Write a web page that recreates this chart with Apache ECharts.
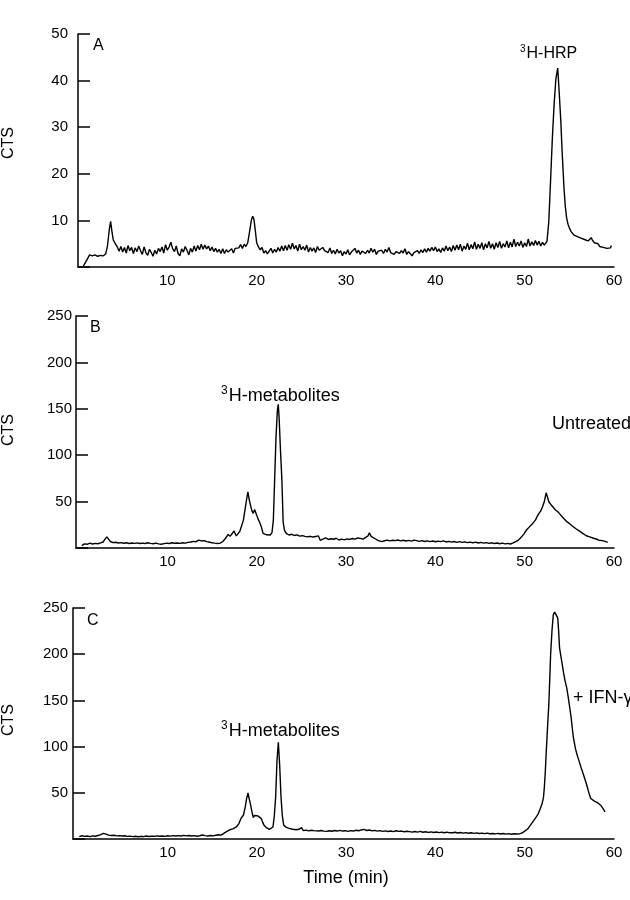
<!DOCTYPE html>
<html><head><meta charset="utf-8">
<script src="https://cdn.jsdelivr.net/npm/echarts@6/dist/echarts.min.js"></script>
<style>html,body{margin:0;padding:0;background:#fff}#c{width:630px;height:900px}</style>
</head><body><div id="c"></div>
<script>
// Panel A: [time (min), CTS]
const traceA = [[0.6,0.2],[0.9,1.2],[1.3,2.6],[1.6,2.4],[1.9,2.6],[2.2,2.3],[2.5,2.5],[2.8,2.4],[3.1,2.8],[3.3,4.5],[3.5,8.0],[3.65,9.8],[3.8,7.6],[3.95,5.8],[4.2,4.9],[4.4,4.3],[4.6,3.4],[4.8,4.4],[5.0,3.2],[5.2,4.2],[5.4,3.0],[5.6,4.6],[5.8,3.5],[6.0,4.2],[6.2,2.9],[6.4,4.1],[6.6,3.3],[6.8,4.5],[7.0,3.5],[7.2,2.7],[7.4,4.3],[7.6,3.1],[7.8,2.5],[8.0,3.8],[8.2,3.1],[8.4,2.3],[8.6,3.6],[8.8,2.8],[9.0,4.0],[9.2,3.3],[9.4,4.3],[9.6,3.0],[9.8,4.8],[10.0,3.6],[10.2,4.3],[10.4,5.3],[10.6,3.9],[10.8,3.3],[11.0,4.5],[11.2,2.9],[11.4,2.4],[11.6,3.9],[11.8,3.2],[12.0,4.4],[12.2,3.6],[12.4,2.6],[12.6,4.0],[12.8,3.2],[13.0,4.5],[13.2,3.4],[13.4,4.6],[13.6,3.7],[13.8,4.9],[14.0,3.8],[14.2,4.7],[14.4,3.9],[14.6,4.5],[14.8,3.5],[15.0,4.3],[15.2,3.3],[15.4,4.0],[15.6,3.2],[15.8,3.8],[16.0,2.9],[16.2,3.9],[16.4,2.9],[16.6,3.7],[16.8,3.2],[17.0,3.5],[17.2,3.9],[17.4,3.0],[17.6,4.0],[17.8,3.6],[18.0,4.1],[18.2,4.8],[18.4,4.0],[18.6,4.9],[18.8,4.4],[19.0,5.2],[19.2,7.5],[19.4,10.0],[19.55,10.9],[19.7,10.2],[19.85,7.8],[20.0,5.2],[20.2,4.3],[20.4,3.7],[20.6,4.2],[20.8,3.0],[21.0,3.5],[21.2,2.8],[21.4,3.4],[21.6,4.0],[21.8,3.0],[22.0,3.8],[22.2,3.2],[22.4,4.2],[22.6,3.4],[22.8,4.5],[23.0,3.5],[23.2,4.6],[23.4,3.6],[23.6,4.8],[23.8,3.8],[24.0,5.1],[24.2,3.9],[24.4,4.6],[24.6,3.4],[24.8,4.9],[25.0,3.7],[25.2,4.4],[25.4,3.6],[25.6,4.7],[25.8,3.2],[26.0,4.2],[26.2,3.4],[26.4,4.1],[26.6,3.1],[26.8,4.4],[27.0,3.6],[27.2,3.2],[27.4,4.2],[27.6,3.5],[27.8,3.9],[28.0,3.1],[28.2,4.1],[28.4,2.9],[28.6,3.6],[28.8,2.8],[29.0,3.8],[29.2,3.0],[29.4,3.5],[29.6,2.4],[29.8,3.3],[30.0,2.8],[30.2,3.7],[30.4,2.6],[30.6,3.2],[30.8,2.9],[31.0,4.0],[31.2,3.0],[31.4,3.6],[31.6,2.7],[31.8,3.4],[32.0,3.8],[32.2,2.9],[32.4,3.6],[32.6,3.0],[32.8,4.0],[33.0,3.2],[33.2,3.8],[33.4,2.7],[33.6,3.4],[33.8,3.0],[34.0,3.6],[34.2,2.9],[34.4,3.8],[34.6,3.2],[34.8,4.2],[35.0,3.1],[35.2,3.5],[35.4,2.7],[35.6,3.3],[35.8,3.7],[36.0,2.9],[36.2,3.5],[36.4,3.0],[36.6,3.9],[36.8,2.7],[37.0,3.3],[37.2,2.9],[37.4,2.4],[37.6,3.1],[37.8,2.7],[38.0,3.5],[38.2,2.9],[38.4,3.7],[38.6,3.1],[38.8,3.9],[39.0,3.2],[39.2,4.0],[39.4,3.4],[39.6,4.2],[39.8,3.5],[40.0,4.3],[40.2,3.3],[40.4,3.9],[40.6,3.1],[40.8,4.1],[41.0,3.4],[41.2,4.5],[41.4,3.5],[41.6,4.3],[41.8,3.3],[42.0,4.6],[42.2,3.6],[42.4,4.7],[42.6,3.7],[42.8,4.9],[43.0,3.4],[43.2,4.5],[43.4,3.8],[43.6,5.1],[43.8,3.7],[44.0,4.8],[44.2,3.9],[44.4,5.4],[44.6,3.8],[44.8,4.9],[45.0,4.0],[45.2,5.2],[45.4,3.7],[45.6,5.0],[45.8,4.1],[46.0,5.5],[46.2,4.0],[46.4,5.0],[46.6,3.8],[46.8,5.2],[47.0,4.2],[47.2,5.5],[47.4,4.0],[47.6,5.0],[47.8,4.3],[48.0,5.6],[48.2,4.1],[48.4,5.3],[48.6,4.3],[48.8,6.0],[49.0,4.4],[49.2,5.3],[49.4,4.5],[49.6,5.6],[49.8,4.2],[50.0,5.2],[50.2,4.4],[50.4,6.0],[50.6,4.5],[50.8,5.4],[51.0,4.6],[51.2,5.7],[51.4,4.7],[51.6,5.5],[51.8,4.5],[52.0,5.3],[52.2,4.7],[52.5,5.5],[52.7,9.7],[52.9,18.5],[53.1,27.7],[53.3,35.0],[53.5,40.5],[53.7,42.7],[53.85,38.0],[54.05,31.2],[54.2,24.5],[54.4,17.0],[54.55,13.0],[54.7,10.5],[54.85,9.2],[55.0,8.4],[55.2,7.6],[55.5,6.9],[55.7,7.3],[55.9,6.5],[56.1,6.8],[56.3,6.2],[56.5,6.5],[56.7,5.9],[56.9,6.1],[57.1,5.6],[57.3,6.0],[57.45,6.3],[57.6,5.7],[57.8,5.2],[58.0,4.8],[58.2,5.0],[58.4,4.4],[58.6,4.6],[58.8,4.2],[59.0,4.5],[59.2,4.0],[59.4,4.3],[59.6,4.1],[59.7,4.6]];

// Panel B (Untreated)
const traceB = [[0.4,2.5],[0.7,4.5],[1.0,4.0],[1.3,5.2],[1.6,4.3],[1.9,5.0],[2.2,4.6],[2.5,5.5],[2.8,6.5],[3.0,9.5],[3.2,12.0],[3.4,10.5],[3.6,7.0],[3.9,5.8],[4.2,6.2],[4.5,5.4],[4.8,5.8],[5.1,5.1],[5.4,5.6],[5.7,4.9],[6.0,5.4],[6.3,5.0],[6.6,5.5],[6.9,4.8],[7.2,5.3],[7.5,4.9],[7.8,5.6],[8.1,5.0],[8.4,4.6],[8.7,5.2],[9.0,4.4],[9.3,4.0],[9.6,4.7],[9.9,5.3],[10.2,4.9],[10.5,5.6],[10.8,5.1],[11.1,5.4],[11.4,5.0],[11.7,5.7],[12.0,5.3],[12.3,6.0],[12.6,6.5],[12.9,7.2],[13.2,6.8],[13.5,8.5],[13.8,7.6],[14.1,8.0],[14.4,6.8],[14.7,6.2],[15.0,5.6],[15.3,5.2],[15.6,4.9],[15.9,5.3],[16.2,7.0],[16.5,10.5],[16.8,14.7],[17.0,12.5],[17.2,13.5],[17.45,18.3],[17.7,13.0],[17.9,15.5],[18.1,18.0],[18.3,19.4],[18.5,30.0],[18.7,42.7],[18.85,52.0],[19.0,60.6],[19.15,52.0],[19.3,46.0],[19.45,40.0],[19.6,37.3],[19.75,41.5],[19.85,40.9],[20.0,35.0],[20.2,30.0],[20.35,27.0],[20.5,23.0],[20.7,15.8],[20.9,14.5],[21.1,14.2],[21.3,13.8],[21.5,14.0],[21.7,16.5],[21.85,30.0],[22.0,75.0],[22.15,120.0],[22.3,148.0],[22.4,154.8],[22.5,140.0],[22.65,105.0],[22.8,75.0],[22.95,28.0],[23.1,19.0],[23.3,15.8],[23.6,14.0],[23.9,14.8],[24.2,13.5],[24.5,14.2],[24.8,12.8],[25.1,13.4],[25.4,12.5],[25.7,12.0],[26.0,12.6],[26.3,11.8],[26.6,12.4],[26.9,13.0],[27.1,8.3],[27.4,9.5],[27.7,10.8],[28.0,9.2],[28.3,10.0],[28.6,9.4],[28.9,10.5],[29.2,8.6],[29.5,9.5],[29.8,8.8],[30.1,9.8],[30.4,9.2],[30.7,10.2],[31.0,9.5],[31.3,10.8],[31.6,10.4],[31.9,9.6],[32.2,11.5],[32.45,13.0],[32.6,16.5],[32.8,12.5],[33.0,10.5],[33.3,9.7],[33.6,8.0],[34.0,6.8],[34.3,7.8],[34.6,8.5],[34.9,7.6],[35.2,8.4],[35.5,7.9],[35.8,8.6],[36.1,7.7],[36.4,8.3],[36.7,7.5],[37.0,8.2],[37.3,7.4],[37.6,8.5],[37.9,8.0],[38.2,7.2],[38.5,7.9],[38.8,7.0],[39.1,7.7],[39.4,6.9],[39.7,7.5],[40.0,6.7],[40.3,7.4],[40.6,6.8],[40.9,7.6],[41.2,6.5],[41.5,7.2],[41.8,6.3],[42.1,7.0],[42.4,6.1],[42.7,6.8],[43.0,6.0],[43.3,6.6],[43.6,5.8],[43.9,6.4],[44.2,5.6],[44.5,6.3],[44.8,5.4],[45.1,6.0],[45.4,5.2],[45.7,5.8],[46.0,5.0],[46.3,5.6],[46.6,4.8],[46.9,5.4],[47.2,4.6],[47.5,5.2],[47.8,4.4],[48.1,5.0],[48.4,4.3],[48.7,5.5],[49.0,7.0],[49.3,8.5],[49.6,11.5],[49.9,15.0],[50.2,19.4],[50.5,22.5],[50.9,26.5],[51.2,30.0],[51.4,34.0],[51.6,37.3],[51.8,40.0],[52.0,44.4],[52.2,50.0],[52.4,59.5],[52.55,55.0],[52.7,49.8],[52.85,51.5],[53.0,46.0],[53.2,47.0],[53.45,41.0],[53.7,39.0],[53.95,36.5],[54.2,33.7],[54.45,31.0],[54.7,28.5],[55.0,26.5],[55.3,24.0],[55.5,22.5],[55.7,21.0],[55.9,19.0],[56.1,18.5],[56.3,16.5],[56.5,15.8],[56.7,14.0],[56.9,13.2],[57.2,12.2],[57.4,11.5],[57.7,10.5],[58.0,9.7],[58.3,8.4],[58.5,9.0],[58.7,7.9],[59.0,7.2],[59.3,6.1]];

// Panel C (+ IFN-γ)
const traceC = [[0.1,2.5],[0.4,3.5],[0.7,2.8],[1.0,3.3],[1.3,2.6],[1.6,3.4],[1.9,3.0],[2.2,3.8],[2.5,4.8],[2.8,6.1],[3.1,5.2],[3.4,4.2],[3.7,3.8],[4.0,4.0],[4.3,3.4],[4.6,3.7],[4.9,3.2],[5.2,3.5],[5.5,2.8],[5.8,3.1],[6.1,2.6],[6.4,3.0],[6.7,2.5],[7.0,2.9],[7.3,2.6],[7.6,3.2],[7.9,2.7],[8.2,3.1],[8.5,2.9],[8.8,3.4],[9.1,3.0],[9.4,3.3],[9.7,2.8],[10.0,3.5],[10.3,3.1],[10.6,3.6],[10.9,3.2],[11.2,3.7],[11.5,3.3],[11.8,3.9],[12.1,3.4],[12.4,3.8],[12.7,3.2],[13.0,3.6],[13.3,3.0],[13.6,3.5],[13.9,4.3],[14.2,3.6],[14.5,3.3],[14.8,3.8],[15.1,3.4],[15.4,4.0],[15.7,4.6],[16.0,4.2],[16.2,5.4],[16.5,7.5],[16.9,9.7],[17.3,11.0],[17.7,13.0],[18.0,17.0],[18.2,22.0],[18.5,26.0],[18.7,35.0],[18.85,44.0],[19.0,49.8],[19.15,43.0],[19.3,36.6],[19.45,29.0],[19.6,23.3],[19.75,25.5],[19.9,27.0],[20.1,25.0],[20.3,26.0],[20.5,22.0],[20.65,18.0],[20.8,15.0],[21.1,12.0],[21.4,10.4],[21.6,11.0],[21.8,13.0],[21.95,25.0],[22.1,45.5],[22.25,85.0],[22.4,104.6],[22.55,80.0],[22.7,45.5],[22.85,25.0],[23.0,15.0],[23.3,12.5],[23.6,11.5],[24.0,10.6],[24.4,10.0],[24.7,10.5],[25.0,12.2],[25.2,9.0],[25.5,9.6],[25.8,8.8],[26.1,9.5],[26.4,9.1],[26.6,10.0],[26.9,8.7],[27.2,9.2],[27.5,8.5],[27.8,8.2],[28.1,8.9],[28.4,8.4],[28.7,9.2],[29.0,8.6],[29.3,9.4],[29.6,8.6],[29.9,9.0],[30.2,8.3],[30.5,9.1],[30.8,8.6],[31.1,9.5],[31.4,8.9],[31.7,9.8],[32.0,10.4],[32.3,9.2],[32.6,9.7],[32.9,8.8],[33.2,9.4],[33.5,8.5],[33.8,9.0],[34.1,8.2],[34.4,8.8],[34.7,8.1],[35.0,8.7],[35.3,8.0],[35.6,8.9],[35.9,8.3],[36.2,8.6],[36.5,7.8],[36.8,8.4],[37.1,8.0],[37.4,7.4],[37.7,8.1],[38.0,7.5],[38.3,8.2],[38.6,7.3],[38.9,7.8],[39.2,7.1],[39.5,7.7],[39.8,7.0],[40.1,7.6],[40.4,6.9],[40.7,7.4],[41.0,6.8],[41.3,7.5],[41.6,6.7],[41.9,6.8],[42.2,7.3],[42.5,6.5],[42.8,7.0],[43.1,6.3],[43.4,6.9],[43.7,6.2],[44.0,6.7],[44.3,6.1],[44.6,6.6],[44.9,5.9],[45.2,6.4],[45.5,5.8],[45.8,6.3],[46.1,5.7],[46.4,6.0],[46.7,5.5],[47.0,6.1],[47.3,5.4],[47.6,5.9],[47.9,5.3],[48.2,5.8],[48.5,5.2],[48.8,5.7],[49.1,5.4],[49.4,5.6],[49.7,6.5],[50.0,8.5],[50.3,10.5],[50.6,14.5],[50.9,18.5],[51.2,22.5],[51.5,27.0],[51.75,33.0],[51.95,38.4],[52.1,45.0],[52.2,56.0],[52.3,72.0],[52.4,92.0],[52.55,120.0],[52.7,146.0],[52.8,172.0],[52.9,199.7],[53.05,225.0],[53.2,242.7],[53.35,245.5],[53.45,244.0],[53.55,242.0],[53.7,239.0],[53.8,225.0],[53.9,206.8],[54.05,198.0],[54.2,189.0],[54.35,180.0],[54.5,172.0],[54.7,163.8],[54.85,155.0],[55.0,145.0],[55.2,131.5],[55.35,118.0],[55.45,110.0],[55.55,112.0],[55.7,97.0],[55.9,90.0],[56.1,84.0],[56.3,77.7],[56.5,72.0],[56.7,66.0],[56.9,60.0],[57.1,53.0],[57.25,48.0],[57.4,43.8],[57.6,43.0],[57.8,41.0],[58.0,40.0],[58.2,39.0],[58.5,36.6],[58.7,34.0],[58.85,32.0],[59.0,29.4]];

const xTickLabels = [10, 20, 30, 40, 50, 60];
const yTicksA = [0, 10, 20, 30, 40, 50];
const yTicksBC = [0, 50, 100, 150, 200, 250];
const panelLetters = ['A', 'B', 'C'];
const isotope = '3';
const annotations = ['H-HRP', 'H-metabolites', 'Untreated', 'H-metabolites', '+ IFN-γ'];
const yName = 'CTS';
const xName = 'Time (min)';

const FONT = "'Liberation Sans', Arial, sans-serif";
const chart = echarts.init(document.getElementById('c'), null, {renderer: 'canvas'});

function xAxis(gi, min) {
  return {
    type: 'value', gridIndex: gi, min: min, max: 60,
    axisLine: {show: true, onZero: false, lineStyle: {color: '#000', width: 1.5}},
    axisTick: {show: false},
    splitLine: {show: false},
    axisLabel: {customValues: xTickLabels, color: '#000', fontSize: 15, fontFamily: FONT, margin: 6}
  };
}
function yAxis(gi, ticks, margin) {
  return {
    type: 'value', gridIndex: gi, min: ticks[0], max: ticks[ticks.length - 1],
    interval: ticks[1] - ticks[0],
    axisLine: {show: true, onZero: false, lineStyle: {color: '#000', width: 1.5}},
    axisTick: {show: true, inside: true, length: 12, lineStyle: {color: '#000', width: 1.5}},
    splitLine: {show: false},
    axisLabel: {color: '#000', fontSize: 15, fontFamily: FONT, margin: margin,
      formatter: v => (v === 0 ? '' : String(v))}
  };
}
function series(i, data) {
  return {type: 'line', xAxisIndex: i, yAxisIndex: i, data: data, showSymbol: false,
    symbol: 'none', lineStyle: {color: '#000', width: 1.4}, animation: false};
}
function txt(text, x, y, size) {
  return {type: 'text', x: x, y: y, style: {text: text, fill: '#000',
    font: size + 'px ' + FONT, textAlign: 'left', textVerticalAlign: 'middle'}};
}
function supTxt(main, x, y, size) {
  return {type: 'text', x: x, y: y, style: {
    text: '{s|' + isotope + '}{m|' + main + '}', fill: '#000',
    textAlign: 'left', textVerticalAlign: 'middle',
    rich: {
      s: {fontSize: Math.round(size * 0.65), fontFamily: FONT, fill: '#000', verticalAlign: 'top', lineHeight: Math.round(size * 0.65), padding: [0, 1, 0, 0]},
      m: {fontSize: size, fontFamily: FONT, fill: '#000', lineHeight: size + 4}
    }}};
}
function rotTxt(text, x, y) {
  return {type: 'text', x: x, y: y, rotation: Math.PI / 2, style: {text: text, fill: '#000',
    font: '16px ' + FONT, textAlign: 'center', textVerticalAlign: 'middle'}};
}

const option = {
  animation: false,
  backgroundColor: '#fff',
  grid: [
    {left: 78, top: 34, width: 536, height: 233},
    {left: 76, top: 316, width: 538, height: 232},
    {left: 73, top: 608, width: 541, height: 231}
  ],
  xAxis: [xAxis(0, 0), xAxis(1, -0.25), xAxis(2, -0.6)],
  yAxis: [yAxis(0, yTicksA, 10), yAxis(1, yTicksBC, 4), yAxis(2, yTicksBC, 5)],
  series: [series(0, traceA), series(1, traceB), series(2, traceC)],
  graphic: [
    rotTxt(yName, 9, 143),
    rotTxt(yName, 9, 430),
    rotTxt(yName, 9, 720),
    txt(panelLetters[0], 93, 46, 16),
    txt(panelLetters[1], 90, 328, 16),
    txt(panelLetters[2], 87, 621, 16),
    supTxt(annotations[0], 520, 54, 16),
    supTxt(annotations[1], 221, 396, 18),
    txt(annotations[2], 552, 424, 18),
    supTxt(annotations[3], 221, 731, 18),
    txt(annotations[4], 573, 698, 18),
    {type: 'text', x: 346, y: 878, style: {text: xName, fill: '#000', font: '18px ' + FONT, textAlign: 'center', textVerticalAlign: 'middle'}}
  ]
};
chart.setOption(option);
</script>
</body></html>
